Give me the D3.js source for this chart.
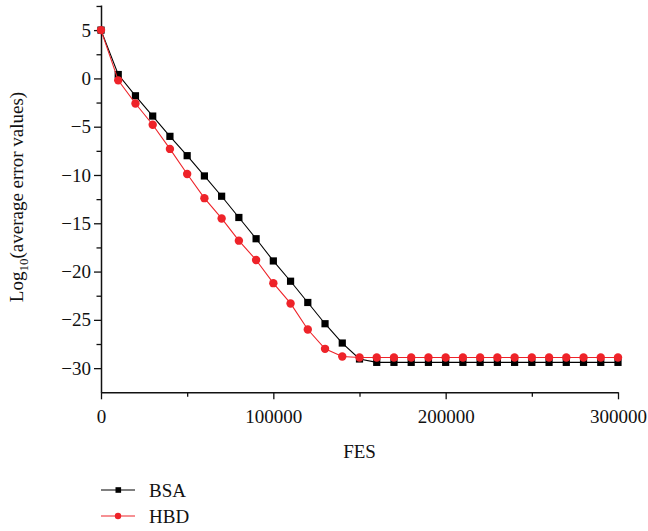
<!DOCTYPE html>
<html>
<head>
<script src="https://d3js.org/d3.v7.min.js"></script>
<style>
  html, body { margin: 0; padding: 0; background: #fff; }
  svg text { font-family: "Liberation Serif", "Times New Roman", serif; fill: #111; }
</style>
</head>
<body>
<svg id="chart" width="648" height="531"></svg>
<script>
// FES sample points
var fes = d3.range(0, 300001, 10000);

// log10 of average error
var bsa = [5, 0.4, -1.8, -3.9, -6.0, -8.0, -10.1, -12.2, -14.4, -16.6, -18.9,
           -21.0, -23.2, -25.4, -27.4, -29.05,
           -29.4, -29.4, -29.4, -29.4, -29.4, -29.4, -29.4, -29.4, -29.4, -29.4,
           -29.4, -29.4, -29.4, -29.4, -29.4];
var hbd = [5, -0.2, -2.6, -4.8, -7.3, -9.9, -12.4, -14.5, -16.8, -18.8, -21.2,
           -23.3, -26.0, -28.0, -28.8, -28.9,
           -28.9, -28.9, -28.9, -28.9, -28.9, -28.9, -28.9, -28.9, -28.9, -28.9,
           -28.9, -28.9, -28.9, -28.9, -28.9];

var xTicks = [0, 100000, 200000, 300000];
var xMinor = [50000, 150000, 250000];
var yTicks = [5, 0, -5, -10, -15, -20, -25, -30];
var yMinor = [7.5, 2.5, -2.5, -7.5, -12.5, -17.5, -22.5, -27.5];

var svg = d3.select("#chart");
var x = d3.scaleLinear().domain([0, 300000]).range([101, 618]);
var y = d3.scaleLinear().domain([-32.5, 7.6]).range([392.3, 5]);

var fmt = function(d) { return d < 0 ? "\u2212" + Math.abs(d) : String(d); };

// minor ticks
svg.append("g").attr("transform", "translate(0,392.3)")
  .call(d3.axisBottom(x).tickValues(xMinor).tickSize(4.5).tickFormat(""))
  .call(function(g) { g.select(".domain").remove(); });
svg.append("g").attr("transform", "translate(101,0)")
  .call(d3.axisLeft(y).tickValues(yMinor).tickSize(4.5).tickFormat(""))
  .call(function(g) { g.select(".domain").remove(); });

var xAxis = svg.append("g").attr("transform", "translate(0,392.3)")
  .call(d3.axisBottom(x).tickValues(xTicks).tickSize(7).tickSizeOuter(0).tickPadding(10).tickFormat(d3.format("d")));
var yAxis = svg.append("g").attr("transform", "translate(101,0)")
  .call(d3.axisLeft(y).tickValues(yTicks).tickSize(7).tickSizeOuter(0).tickPadding(3).tickFormat(fmt));

svg.selectAll(".tick line").attr("stroke", "#111").attr("stroke-width", 1.3);
svg.selectAll(".domain").attr("stroke", "#111").attr("stroke-width", 1.5);
svg.selectAll(".tick text").attr("font-size", 19).attr("font-family", "Liberation Serif").attr("fill", "#111");

// axis titles
svg.append("text").attr("x", 359.5).attr("y", 458).attr("text-anchor", "middle")
  .attr("font-size", 19).text("FES");
var yl = svg.append("text").attr("transform", "translate(23,197) rotate(-90)")
  .attr("text-anchor", "middle").attr("font-size", 19);
yl.append("tspan").text("Log");
yl.append("tspan").attr("font-size", 13).attr("dy", 5).text("10");
yl.append("tspan").attr("dy", -5).text("(average error values)");

var line = d3.line().x(function(d, i) { return x(fes[i]); }).y(function(d) { return y(d); });

var series = [
  { name: "BSA", values: bsa, color: "#000000", shape: "square" },
  { name: "HBD", values: hbd, color: "#ee2329", shape: "circle" }
];

series.forEach(function(s) {
  svg.append("path").datum(s.values).attr("d", line)
    .attr("fill", "none").attr("stroke", s.color).attr("stroke-width", 1.1);
  var pts = svg.append("g");
  if (s.shape === "square") {
    pts.selectAll("rect").data(s.values).enter().append("rect")
      .attr("x", function(d, i) { return x(fes[i]) - 3.6; })
      .attr("y", function(d) { return y(d) - 3.6; })
      .attr("width", 7.2).attr("height", 7.2).attr("fill", s.color);
  } else {
    pts.selectAll("circle").data(s.values).enter().append("circle")
      .attr("cx", function(d, i) { return x(fes[i]); })
      .attr("cy", function(d) { return y(d); })
      .attr("r", 4.2).attr("fill", s.color);
  }
});

// legend
var lg = svg.append("g");
series.forEach(function(s, i) {
  var ly = 490 + i * 26;
  lg.append("line").attr("x1", 101).attr("x2", 135).attr("y1", ly).attr("y2", ly)
    .attr("stroke", s.color).attr("stroke-width", 1.2);
  if (s.shape === "square") {
    lg.append("rect").attr("x", 115.5).attr("y", ly - 2.8).attr("width", 5.6).attr("height", 5.6).attr("fill", s.color);
  } else {
    lg.append("circle").attr("cx", 118).attr("cy", ly).attr("r", 3.2).attr("fill", s.color);
  }
  lg.append("text").attr("x", 149).attr("y", ly + 6.5).attr("font-size", 19).text(s.name);
});
</script>
</body>
</html>
